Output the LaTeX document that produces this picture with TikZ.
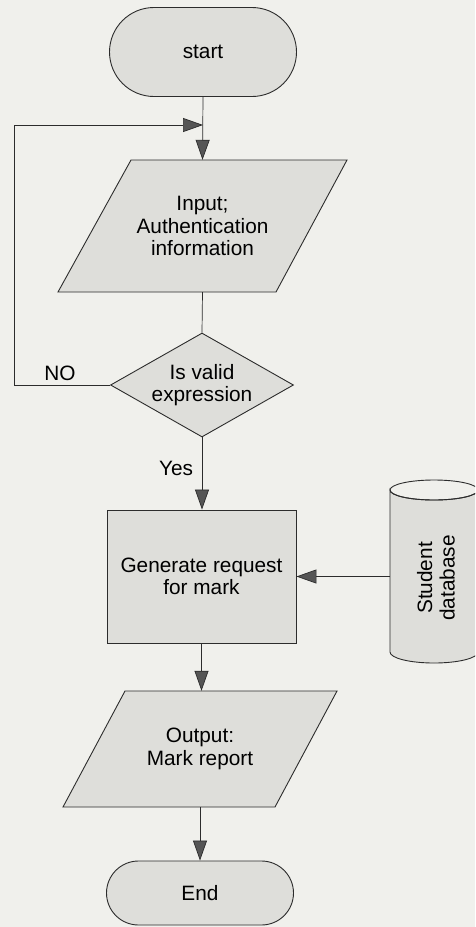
\documentclass[tikz,border=0pt]{standalone}
\usepackage{fontspec}
\setmainfont{Liberation Sans}
\usetikzlibrary{shapes.geometric,shapes.misc,arrows.meta}
\definecolor{paper}{HTML}{F0F0EC}
\definecolor{boxfill}{HTML}{DEDEDA}
\definecolor{ink}{HTML}{2C2C2C}
\definecolor{tipfill}{HTML}{555555}
\begin{document}
\begin{tikzpicture}[x=1pt,y=-1pt,
  font=\fontsize{20.8}{22.5}\selectfont,
  shapebox/.style={draw=ink, fill=boxfill, line width=0.9pt, inner sep=0pt, align=center},
  terminal/.style={shapebox, rounded rectangle, minimum width=187pt},
  process/.style={shapebox, rectangle},
  decision/.style={shapebox, diamond, aspect=1.76},
  outline/.style={draw=ink, fill=boxfill, line width=0.9pt},
  textbox/.style={rectangle, inner sep=0pt, align=center},
  link/.style={draw=ink, line width=0.7pt},
  flow/.style={link, -{Triangle[length=20pt,width=14pt,fill=tipfill]}},
  tag/.style={inner sep=0pt},
]
\fill[paper] (0,0) rectangle (475,927);
\useasboundingbox (0,0) rectangle (475,927);

% terminals
\node[terminal, minimum height=89pt] (start) at (203,52) {start};
\node[terminal, minimum height=64pt] (end) at (200,893) {End};

% input parallelogram
\path[outline] (58,292) -- (131,160) -- (347,160) -- (276,292) -- cycle;
\node[textbox, minimum width=289pt, minimum height=132pt] (in) at (202.5,226)
  {Input;\\Authentication\\information};

% decision
\node[decision, minimum width=183pt, minimum height=104pt] (dec) at (202,385)
  {Is valid\\expression};

% process
\node[process, minimum width=189pt, minimum height=133pt] (proc) at (201.5,576.5)
  {Generate request\\for mark};

% output parallelogram
\path[outline] (63,807) -- (125,691) -- (337,691) -- (275,807) -- cycle;
\node[textbox, minimum width=274pt, minimum height=116pt] (out) at (200,749)
  {Output:\\Mark report};

% student database cylinder
\begin{scope}
  \clip (0,0) rectangle (475,927);
  \path[outline] (390,490) -- (390,652)
    arc[start angle=180, end angle=0, x radius=44, y radius=11]
    -- (478,490)
    arc[start angle=0, end angle=180, x radius=44, y radius=10] -- cycle;
  \draw[draw=ink, line width=0.9pt] (434,490) ellipse [x radius=44, y radius=10];
\end{scope}
\node[textbox, minimum width=88pt, minimum height=162pt] (db) at (434,571) {};
\node[textbox, rotate=90] (dbtext) at (436,578) {Student\\database};

% connectors
\coordinate (loop) at (14,125);
\draw[flow] (start.south) -- (in.north);
\draw[flow] (dec.west) -| (loop) -- (loop -| start.south);
\draw[link] (in.south) -- (dec.north);
\draw[flow] (dec.south) -- (dec.south |- proc.north);
\draw[flow] (proc.south) -- (proc.south |- out.north);
\draw[flow] (out.south) -- (out.south |- end.north);
\draw[flow] (db.west |- proc.east) -- (proc.east);

% branch labels
\node[tag] (no) at (60,373) {NO};
\node[tag] (yes) at (176,468) {Yes};
\end{tikzpicture}
\end{document}
